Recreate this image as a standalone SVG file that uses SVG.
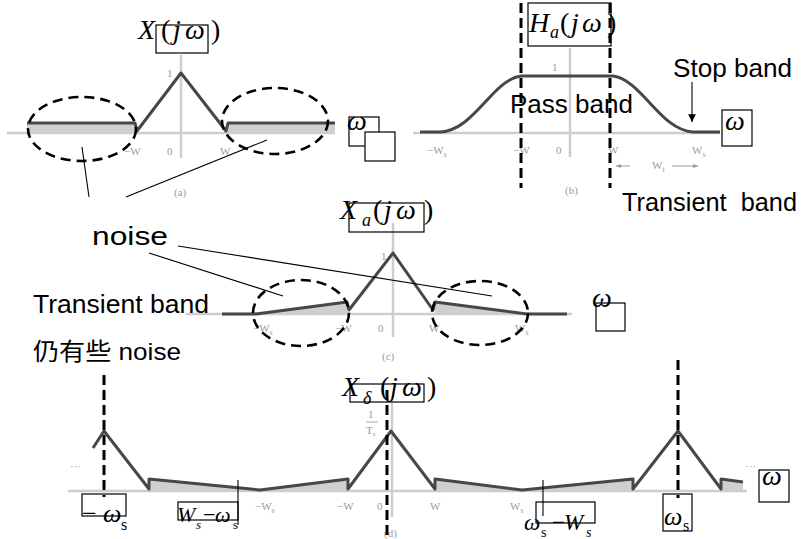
<svg xmlns="http://www.w3.org/2000/svg" width="808" height="539" viewBox="0 0 808 539">
<defs>
<marker id="arr" viewBox="0 0 10 10" refX="10" refY="5" markerWidth="7" markerHeight="7" orient="auto"><path d="M0,0 L10,5 L0,10 z" fill="#000"/></marker>
<marker id="garr" viewBox="0 0 10 10" refX="10" refY="5" markerWidth="5" markerHeight="5" orient="auto"><path d="M0,1 L10,5 L0,9 z" fill="#999"/></marker>
</defs>
<style>
.axis{stroke:#cdcdcd;stroke-width:2.5;fill:none}
.curve{stroke:#474747;stroke-width:3;fill:none;stroke-linejoin:round}
.shade{fill:#cfcfcf;stroke:none}
.dash{stroke:#000;stroke-width:2.6;fill:none;stroke-dasharray:10 6}
.vdash{stroke:#000;stroke-width:3;fill:none;stroke-dasharray:10 5}
.box{fill:none;stroke:#000;stroke-width:1.2}
.wbox{fill:#fff;stroke:#000;stroke-width:1.2}
.thin{stroke:#000;stroke-width:1.1;fill:none}
.tick{font-family:"Liberation Serif",serif;font-size:11px;fill:#9a9a9a}
.math{font-family:"Liberation Serif",serif;font-style:italic;fill:#000}
.lbl{font-family:"Liberation Sans",Arial,sans-serif;font-size:25px;fill:#000}
.cjk{font-family:"Liberation Sans","Noto Sans CJK SC",sans-serif;font-size:24px;fill:#000}
</style>
<rect width="808" height="539" fill="#fff"/>

<g id="panel-a">
<polygon class="shade" points="27,123 136,123 137,133 27,133"/>
<polygon class="shade" points="227,123 335,123 335,133 227,133"/>
<line class="axis" x1="7" y1="133" x2="335" y2="133"/>
<line class="axis" x1="181" y1="55" x2="181" y2="158"/>
<polyline class="curve" points="27,123 135,123 137,131 181,73 226,131 228,123 335,123"/>
<text class="tick" x="167" y="77">1</text>
<text class="tick" x="124" y="155">−W</text>
<text class="tick" x="167" y="155">0</text>
<text class="tick" x="220" y="155">W</text>
<text class="tick" x="174" y="196">(a)</text>
<rect class="box" x="156" y="25" width="52" height="28"/>
<text class="math" font-size="28" y="39"><tspan x="138">X</tspan><tspan x="161" font-style="normal">(</tspan><tspan x="173">j</tspan><tspan x="185">ω</tspan><tspan x="211" font-style="normal">)</tspan></text>
<ellipse class="dash" cx="82" cy="129" rx="54" ry="32"/>
<ellipse class="dash" cx="275" cy="121" rx="53" ry="33"/>
<rect class="box" x="349" y="117" width="30" height="29"/>
<text class="math" font-size="28" x="347" y="130">ω</text>
<rect class="wbox" x="365" y="132" width="30" height="29"/>
</g>

<g id="panel-b">
<line class="axis" x1="413" y1="133" x2="720" y2="133"/>
<line class="axis" x1="570" y1="48" x2="570" y2="157"/>
<path class="curve" d="M420,132 L440,132 C475,130 492,80 521,76 L613,76 C642,80 660,130 693,132 L720,132"/>
<text class="tick" x="552" y="71">1</text>
<text class="tick" x="427" y="154">−W<tspan font-size="8" dy="3">s</tspan></text>
<text class="tick" x="513" y="154">−W</text>
<text class="tick" x="556" y="154">0</text>
<text class="tick" x="608" y="154">W</text>
<text class="tick" x="692" y="154">W<tspan font-size="8" dy="3">s</tspan></text>
<text class="tick" x="565" y="194">(b)</text>
<line x1="630" y1="166" x2="616" y2="166" stroke="#999" stroke-width="1" marker-end="url(#garr)"/>
<line x1="672" y1="166" x2="698" y2="166" stroke="#999" stroke-width="1" marker-end="url(#garr)"/>
<text class="tick" x="652" y="169">W<tspan font-size="8" dy="3">t</tspan></text>
<line class="vdash" x1="521" y1="3" x2="521" y2="188"/>
<line class="vdash" x1="610" y1="3" x2="610" y2="188"/>
<rect class="box" x="528" y="3" width="83" height="43"/>
<text class="math" font-size="28" y="32"><tspan x="529">H</tspan><tspan x="550" y="38" font-size="18">a</tspan><tspan x="560" y="32" font-style="normal">(</tspan><tspan x="571">j</tspan><tspan x="582">ω</tspan><tspan x="607" font-style="normal">)</tspan></text>
<text class="lbl" x="510" y="113" textLength="123" lengthAdjust="spacingAndGlyphs">Pass band</text>
<text class="lbl" x="673" y="77" textLength="119" lengthAdjust="spacingAndGlyphs">Stop band</text>
<rect class="box" x="722" y="110" width="30" height="36"/>
<text class="math" font-size="28" x="725" y="130">ω</text>
<text class="lbl" x="622" y="211" textLength="175" lengthAdjust="spacingAndGlyphs" xml:space="preserve">Transient  band</text>
</g>

<g id="panel-c">
<polygon class="shade" points="256,314 347,302 348,314"/>
<polygon class="shade" points="435,302 527,314 435,314"/>
<line class="axis" x1="186" y1="314" x2="572" y2="314"/>
<line class="axis" x1="393" y1="223" x2="393" y2="337"/>
<polyline class="curve" points="222,314 256,314 347,302 349,310 393,253 433,310 435,302 527,314 567,314"/>
<text class="tick" x="381" y="260">1</text>
<text class="tick" x="253" y="332">−W<tspan font-size="8" dy="3">s</tspan></text>
<text class="tick" x="335" y="332">−W</text>
<text class="tick" x="378" y="332">0</text>
<text class="tick" x="429" y="332">W</text>
<text class="tick" x="515" y="332">W<tspan font-size="8" dy="3">s</tspan></text>
<text class="tick" x="382" y="360">(c)</text>
<ellipse class="dash" cx="301" cy="313" rx="48" ry="33"/>
<ellipse class="dash" cx="480" cy="313" rx="48" ry="32"/>
<rect class="box" x="349" y="203" width="75" height="29"/>
<text class="math" font-size="28" y="219"><tspan x="340">X</tspan><tspan x="362" y="226" font-size="18">a</tspan><tspan x="373" y="219" font-style="normal">(</tspan><tspan x="384">j</tspan><tspan x="396">ω</tspan><tspan x="424" font-style="normal">)</tspan></text>
<text class="math" font-size="28" x="592" y="307">ω</text>
<rect class="box" x="596" y="303" width="29" height="28"/>
<text class="lbl" x="92" y="245" font-size="27" textLength="76" lengthAdjust="spacingAndGlyphs">noise</text>
<text class="lbl" x="33" y="313" textLength="176" lengthAdjust="spacingAndGlyphs">Transient band</text>
<text class="cjk" x="33" y="360" textLength="148" lengthAdjust="spacingAndGlyphs">仍有些 noise</text>
</g>

<g id="panel-d">
<polygon class="shade" points="149,479 260,490 348,479 348,491 149,491"/>
<polygon class="shade" points="435,479 522,490 633,479 633,491 435,491"/>
<polygon class="shade" points="721,479 743,482 743,491 721,491"/>
<line class="axis" x1="68" y1="491" x2="747" y2="491"/>
<line class="axis" x1="392" y1="403" x2="392" y2="517"/>
<polyline class="curve" points="93,448 104,431 149,489 149,479 260,490 348,479 348,489 391,431 435,489 435,479 522,490 633,479 633,489 678,431 721,489 721,479 743,482"/>
<text class="tick" x="70" y="470">···</text>
<text class="tick" x="745" y="470">···</text>
<text class="tick" x="368" y="418" font-size="10">1</text>
<line x1="366" y1="422" x2="378" y2="422" stroke="#aaa" stroke-width="1"/>
<text class="tick" x="366" y="434" font-size="10">T<tspan font-size="7" dy="2">s</tspan></text>
<text class="tick" x="255" y="510">−W<tspan font-size="8" dy="3">s</tspan></text>
<text class="tick" x="337" y="510">−W</text>
<text class="tick" x="377" y="510">0</text>
<text class="tick" x="430" y="510">W</text>
<text class="tick" x="510" y="510">W<tspan font-size="8" dy="3">s</tspan></text>
<text class="tick" x="384" y="537">(d)</text>
<rect class="box" x="350" y="384" width="74" height="18"/>
<text class="math" font-size="28" y="396"><tspan x="342">X</tspan><tspan x="363" y="404" font-size="18">δ</tspan><tspan x="380" y="396" font-style="normal">(</tspan><tspan x="390">j</tspan><tspan x="402">ω</tspan><tspan x="427" font-style="normal">)</tspan></text>
<rect class="box" x="82" y="494" width="44" height="22"/>
<text class="math" font-size="26" y="522"><tspan x="82" font-style="normal">−</tspan><tspan x="103">ω</tspan><tspan x="121" y="530" font-size="16" font-style="normal">s</tspan></text>
<rect class="box" x="178" y="502" width="60" height="18"/>
<line class="thin" x1="238" y1="480" x2="238" y2="525"/>
<text class="math" font-size="22" y="522"><tspan x="177">W</tspan><tspan x="196" y="529" font-size="13">s</tspan><tspan x="203" y="522" font-style="normal">−</tspan><tspan x="215">ω</tspan><tspan x="233" y="529" font-size="13" font-style="normal">s</tspan></text>
<rect class="box" x="536" y="502" width="59" height="21"/>
<line class="thin" x1="543" y1="480" x2="543" y2="516"/>
<text class="math" font-size="23" y="530"><tspan x="524">ω</tspan><tspan x="541" y="537" font-size="14" font-style="normal">s</tspan><tspan x="552" y="530" font-style="normal">−</tspan><tspan x="564">W</tspan><tspan x="586" y="537" font-size="14">s</tspan></text>
<rect class="box" x="663" y="494" width="29" height="37"/>
<text class="math" font-size="26" y="525"><tspan x="664">ω</tspan><tspan x="683" y="531" font-size="16" font-style="normal">s</tspan></text>
<rect class="box" x="759" y="470" width="30" height="32"/>
<text class="math" font-size="28" x="762" y="485">ω</text>
</g>

<g id="guides">
<line class="vdash" x1="104" y1="375" x2="104" y2="497"/>
<line class="vdash" x1="678" y1="360" x2="678" y2="498"/>
<line class="vdash" x1="387" y1="390" x2="387" y2="539"/>
</g>

<g id="connectors">
<line class="thin" x1="82" y1="147" x2="89" y2="197"/>
<line class="thin" x1="267" y1="140" x2="126" y2="197"/>
<line class="thin" x1="149" y1="253" x2="283" y2="296"/>
<line class="thin" x1="178" y1="246" x2="492" y2="296"/>
<line class="thin" x1="692" y1="82" x2="692" y2="122" marker-end="url(#arr)"/>
</g>
</svg>
